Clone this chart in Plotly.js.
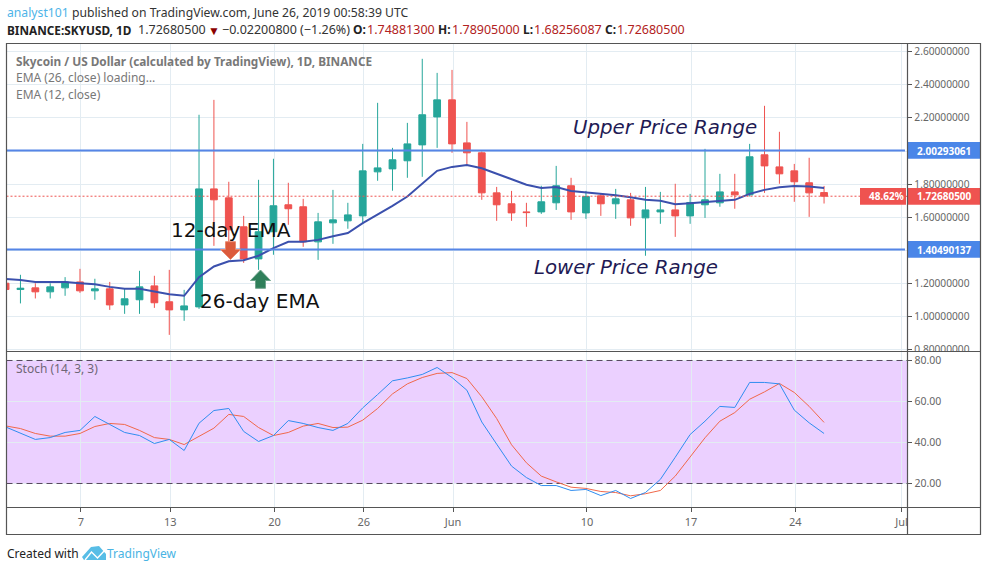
<!DOCTYPE html>
<html>
<head>
<meta charset="utf-8">
<script src="https://cdn.plot.ly/plotly-3.0.1.min.js"></script>
<style>html,body{margin:0;padding:0;background:#fff;overflow:hidden}</style>
</head>
<body>
<div id="chart" style="width:987px;height:571px"></div>
<script>
const dates = ["2019-05-02","2019-05-03","2019-05-04","2019-05-05","2019-05-06","2019-05-07","2019-05-08","2019-05-09","2019-05-10","2019-05-11","2019-05-12","2019-05-13","2019-05-14","2019-05-15","2019-05-16","2019-05-17","2019-05-18","2019-05-19","2019-05-20","2019-05-21","2019-05-22","2019-05-23","2019-05-24","2019-05-25","2019-05-26","2019-05-27","2019-05-28","2019-05-29","2019-05-30","2019-05-31","2019-06-01","2019-06-02","2019-06-03","2019-06-04","2019-06-05","2019-06-06","2019-06-07","2019-06-08","2019-06-09","2019-06-10","2019-06-11","2019-06-12","2019-06-13","2019-06-14","2019-06-15","2019-06-16","2019-06-17","2019-06-18","2019-06-19","2019-06-20","2019-06-21","2019-06-22","2019-06-23","2019-06-24","2019-06-25","2019-06-26"];
const opens  = [1.201,1.163,1.173,1.149,1.173,1.209,1.155,1.167,1.07,1.101,1.185,1.089,1.04,1.058,1.771,1.717,1.542,1.348,1.512,1.675,1.663,1.451,1.566,1.578,1.608,1.874,1.892,1.941,2.037,2.206,2.309,2.049,1.989,1.747,1.681,1.632,1.632,1.687,1.79,1.626,1.729,1.681,1.705,1.596,1.632,1.644,1.608,1.675,1.687,1.753,1.735,1.977,1.904,1.88,1.808,1.7488];
const highs  = [1.24,1.252,1.201,1.201,1.238,1.288,1.228,1.209,1.167,1.276,1.246,1.282,1.161,2.219,2.309,1.814,1.608,1.826,1.953,1.808,1.711,1.626,1.765,1.687,2.043,2.291,2.019,2.17,2.557,2.472,2.49,2.176,1.997,1.783,1.759,1.687,1.79,1.91,1.838,1.759,1.745,1.771,1.747,1.783,1.753,1.802,1.741,2.013,1.862,1.862,2.043,2.273,2.116,1.922,1.959,1.789];
const lows   = [1.12,1.079,1.109,1.109,1.125,1.143,1.101,1.04,1.016,1.016,1.052,0.889,0.974,1.046,1.427,1.42,1.324,1.282,1.373,1.554,1.421,1.342,1.439,1.53,1.56,1.82,1.76,1.838,1.844,2.019,1.989,1.916,1.705,1.578,1.578,1.542,1.62,1.644,1.584,1.59,1.608,1.59,1.548,1.367,1.56,1.481,1.56,1.596,1.663,1.651,1.725,1.747,1.802,1.693,1.602,1.6826];
const closes = [1.163,1.171,1.149,1.179,1.209,1.155,1.167,1.07,1.107,1.179,1.083,1.04,1.064,1.771,1.705,1.524,1.348,1.512,1.669,1.651,1.451,1.572,1.584,1.614,1.88,1.898,1.947,2.043,2.219,2.309,2.043,1.989,1.747,1.675,1.626,1.628,1.693,1.79,1.632,1.725,1.681,1.711,1.596,1.644,1.644,1.608,1.689,1.705,1.753,1.735,1.965,1.91,1.862,1.814,1.747,1.7268];
const ema = [1.226,1.22,1.209,1.209,1.209,1.201,1.195,1.179,1.167,1.167,1.151,1.135,1.125,1.238,1.302,1.334,1.34,1.367,1.413,1.451,1.451,1.463,1.485,1.504,1.564,1.614,1.669,1.725,1.804,1.88,1.904,1.916,1.896,1.862,1.826,1.796,1.777,1.783,1.759,1.751,1.739,1.733,1.721,1.705,1.699,1.679,1.685,1.691,1.699,1.705,1.741,1.765,1.781,1.788,1.785,1.777];
const stochK = [47.6,44.4,41.5,42.4,44.9,45.9,52.7,48.8,44.9,43.4,39.5,41.5,36.1,49.4,55.6,56.6,45.4,40.5,43.4,50.7,49.3,47.3,45.9,49.3,56.9,63.4,70.1,71.5,73.2,76.6,71.7,65.5,50,39.2,28.5,22.9,19,19,16.6,17.1,14.1,16.6,12.7,15.6,22,32.8,43.9,50.4,57.6,57.1,69.3,69.3,68.6,55.8,49.6,44.4];
const stochD = [48.1,46.8,44.4,43.1,43.1,44.4,47.8,49.3,48.8,45.9,42.4,41.5,39,42.8,47,53.7,52.7,47.3,43.4,44.9,48,49.3,47.3,47.5,50.9,56.6,63.7,68.6,71.7,73.7,74.1,71.2,62.3,51.7,38.9,30.1,23.6,20.8,18.2,17.6,16.1,15.6,14,15,16.6,23.6,33,42.3,50.4,54.6,61.1,64.7,68.8,64.4,57.6,49.8];
const priceTicks = [0.8,1.0,1.2,1.4,1.6,1.8,2.0,2.2,2.4,2.6];
const priceLabels = ["0.80000000","1.00000000","1.20000000","","1.60000000","1.80000000","","2.20000000","2.40000000","2.60000000"];
const stochTicks = [20,40,60,80];
const timeTicks = ["2019-05-07 01:36","2019-05-13 01:36","2019-05-20 01:36","2019-05-26 01:36","2019-06-01 01:36","2019-06-10 01:36","2019-06-17 01:36","2019-06-24 01:36","2019-07-01 05:00"];
const timeLabels = ["7","13","20","26","Jun","10","17","24","Jul"];
const upperLevel = 2.00293061, lowerLevel = 1.40490137, lastClose = 1.726805;
const stochUpper = 80, stochLower = 20;

const W = 987, H = 571;
const X = v => v / W, Y = v => 1 - v / H;
const FONT = '"Noto Sans", sans-serif';
const xRange = ["2019-05-02 01:30","2019-07-01 14:15"];
const paperRect = (x0,y0,x1,y1,fill) => ({type:'rect',xref:'paper',yref:'paper',x0:X(x0),x1:X(x1),y0:Y(y0),y1:Y(y1),fillcolor:fill,line:{width:0},layer:'above'});
const paperLine = (x0,y0,x1,y1,color,w) => ({type:'line',xref:'paper',yref:'paper',x0:X(x0),x1:X(x1),y0:Y(y0),y1:Y(y1),line:{color:color,width:w||1},layer:'above'});
const poly = (pts,fill,line) => ({type:'path',xref:'paper',yref:'paper',path:'M'+pts.map(p=>X(p[0])+','+Y(p[1])).join(' L')+' Z',fillcolor:fill,line:line||{width:0},layer:'above'});
const txt = (s,x,y,size,color,extra) => Object.assign({xref:'paper',yref:'paper',x:X(x),y:Y(y),xanchor:'left',yanchor:'middle',text:s,showarrow:false,borderpad:0,font:{family:FONT,size:size,color:color}},extra||{});
const DJ = (size,color) => ({font:{family:'"DejaVu Sans",sans-serif',size:size,color:color}});

const levelLine = (v,x1) => ({type:'line',xref:'paper',yref:'y',x0:X(6.5),x1:X(x1),y0:v,y1:v,line:{color:'#5585e6',width:2},layer:'above'});

const shapes = [
  {type:'rect',xref:'paper',yref:'y2',x0:X(6.5),x1:X(907),y0:stochLower,y1:stochUpper,fillcolor:'rgba(153,21,255,0.2)',line:{width:0},layer:'between'},
  {type:'line',xref:'paper',yref:'y',x0:X(6.5),x1:X(860),y0:lastClose,y1:lastClose,line:{color:'#ef5350',width:1,dash:'2px,2px'},layer:'above'},
  levelLine(upperLevel,905), levelLine(lowerLevel,905),
  paperRect(908,142,980,158.7,'#4a86e8'),
  paperRect(908,241,980,257.7,'#4a86e8'),
  paperRect(860,188,906,204.7,'#ef5350'),
  paperRect(908,188,980,204.7,'#ef5350'),
  paperLine(906,196.3,908,196.3,'#ef5350'),
  paperRect(908,351.5,980,355.5,'#ffffff'),
  {type:'rect',xref:'paper',yref:'paper',x0:X(6.5),x1:X(980.5),y0:Y(43.5),y1:Y(534.5),line:{color:'#555555',width:1.2},layer:'above'},
  paperLine(907.5,43.5,907.5,534.5,'#555555',1.2),
  paperLine(6.5,351.5,980.5,351.5,'#555555',1.2),
  paperLine(6.5,507.5,980.5,507.5,'#555555',1.2),
  poly([[225.5,241.7],[235.5,241.7],[235.5,249.5],[240.5,249.5],[230.5,259.5],[220.5,249.5],[225.5,249.5]],'#dc5a3c',{color:'#e98a70',width:1}),
  poly([[255.5,288.3],[265.5,288.3],[265.5,280.5],[270.5,280.5],[260.5,270],[250.5,280.5],[255.5,280.5]],'#2f7f5a',{color:'#6fa48c',width:1}),
  {type:'path',xref:'paper',yref:'paper',path:'M'+X(82)+','+Y(557)+' L'+X(91)+','+Y(547)+' L'+X(99)+','+Y(546)+' L'+X(106)+','+Y(554)+' L'+X(106)+','+Y(560)+' L'+X(84)+','+Y(560)+' Z',fillcolor:'#58bde6',line:{width:0},layer:'above'},
  {type:'path',xref:'paper',yref:'paper',path:'M'+X(85)+','+Y(560)+' L'+X(91.5)+','+Y(552)+' L'+X(97.5)+','+Y(558)+' L'+X(106)+','+Y(549),fillcolor:'rgba(0,0,0,0)',line:{color:'#ffffff',width:1.4},layer:'above'}
];

const RED='#b22222', TXT='#333333', LEG='#787878', NAVY='#1f1b55';
const annotations = [
  txt('<span style="color:#4db4e8">analyst101</span> published on TradingView.com, June 26, 2019 00:58:39 UTC',6,12.5,12.2,TXT),
  txt('<b>BINANCE:SKYUSD, 1D</b>',6,29.5,11.8,'#222222'),
  txt('1.72680500',137,29.5,12.5,TXT),
  txt('▼',206.5,30,12,'#8b0000'),
  txt('−0.02200800 (−1.26%)',221,29.5,12.5,TXT),
  txt('<b>O:</b>',352,29.5,12,'#222222'), txt('1.74881300',366,29.5,12.5,RED),
  txt('<b>H:</b>',437,29.5,12,'#222222'), txt('1.78905000',451,29.5,12.5,RED),
  txt('<b>L:</b>',522,29.5,12,'#222222'), txt('1.68256087',533,29.5,12.5,RED),
  txt('<b>C:</b>',604,29.5,12,'#222222'), txt('1.72680500',616,29.5,12.5,RED),
  txt('<b>Skycoin / US Dollar (calculated by TradingView), 1D, BINANCE</b>',15,60.5,11.8,LEG),
  txt('EMA (26, close) loading…',15,77.5,12,LEG),
  txt('EMA (12, close)',15,94.5,12,LEG),
  txt('Stoch (14, 3, 3)',15,368.5,12,'#6f6676'),
  txt('12-day EMA',170,230,20,'#111111',DJ(20,'#111111')),
  txt('26-day EMA',198.5,301,20,'#111111',DJ(20,'#111111')),
  txt('<i>Upper Price Range</i>',571.5,127,20,NAVY,DJ(19.8,NAVY)),
  txt('<i>Lower Price Range</i>',532.5,267,20,NAVY,DJ(19.8,NAVY)),
  txt('<b>2.00293061</b>',915.5,150.5,10,'#ffffff'),
  txt('<b>1.40490137</b>',915.5,249.5,10,'#ffffff'),
  txt('<b>1.72680500</b>',915.5,196.5,10,'#ffffff'),
  txt('<b>48.62%</b>',868,196.5,10,'#ffffff'),
  txt('Created with',6,553,12,'#222222'),
  txt('TradingView',106,553,12,'#49b4e4')
];

const bandLine = v => ({type:'scatter',mode:'lines',x:xRange,y:[v,v],xaxis:'x',yaxis:'y2',line:{color:'#55485f',width:1,dash:'6px,4px'},hoverinfo:'skip'});
const traces = [
  {type:'candlestick',x:dates,open:opens,high:highs,low:lows,close:closes,xaxis:'x',yaxis:'y',whiskerwidth:0,
   increasing:{line:{color:'#26a69a',width:1},fillcolor:'#26a69a'},
   decreasing:{line:{color:'#ef5350',width:1},fillcolor:'#ef5350'},hoverinfo:'skip'},
  {type:'scatter',mode:'lines',x:dates,y:ema,xaxis:'x',yaxis:'y',line:{color:'#3b50ad',width:2},hoverinfo:'skip'},
  bandLine(stochUpper), bandLine(stochLower),
  {type:'scatter',mode:'lines',x:dates,y:stochD,xaxis:'x',yaxis:'y2',line:{color:'#f0684a',width:1},hoverinfo:'skip'},
  {type:'scatter',mode:'lines',x:dates,y:stochK,xaxis:'x',yaxis:'y2',line:{color:'#2f8df0',width:1},hoverinfo:'skip'}
];

const layout = {
  width:W,height:H,autosize:false,margin:{l:0,r:0,t:0,b:0,pad:0},
  paper_bgcolor:'#ffffff',plot_bgcolor:'#ffffff',showlegend:false,boxgap:0.35,hovermode:false,
  font:{family:FONT,size:11,color:'#666666'},
  xaxis:{domain:[X(6.5),X(907.3)],range:xRange,type:'date',anchor:'y2',rangeslider:{visible:false},
    tickmode:'array',tickvals:timeTicks,ticktext:timeLabels,ticks:'outside',ticklen:4,tickcolor:'#555555',
    tickfont:{family:FONT,size:11,color:'#666666'},showgrid:true,gridcolor:'#e3ecf2',gridwidth:1,zeroline:false,showline:false},
  yaxis:{domain:[Y(351.3),Y(43)],range:[0.7897,2.6526],side:'right',tickmode:'array',tickvals:priceTicks,ticktext:priceLabels,
    ticks:'outside',ticklen:4,tickcolor:'#555555',tickfont:{family:FONT,size:10.2,color:'#666666'},
    showgrid:true,gridcolor:'#e3ecf2',gridwidth:1,zeroline:false,showline:false,anchor:'x'},
  yaxis2:{domain:[Y(507.3),Y(351.3)],range:[8.39,84.49],side:'right',tickmode:'array',tickvals:stochTicks,tickformat:'.2f',
    ticks:'outside',ticklen:4,tickcolor:'#555555',tickfont:{family:FONT,size:10.5,color:'#666666'},
    showgrid:true,gridcolor:'#e3ecf2',gridwidth:1,zeroline:false,showline:false,anchor:'x'},
  shapes:shapes,annotations:annotations
};
Plotly.newPlot('chart',traces,layout,{displayModeBar:false,staticPlot:true});
</script>
</body>
</html>
